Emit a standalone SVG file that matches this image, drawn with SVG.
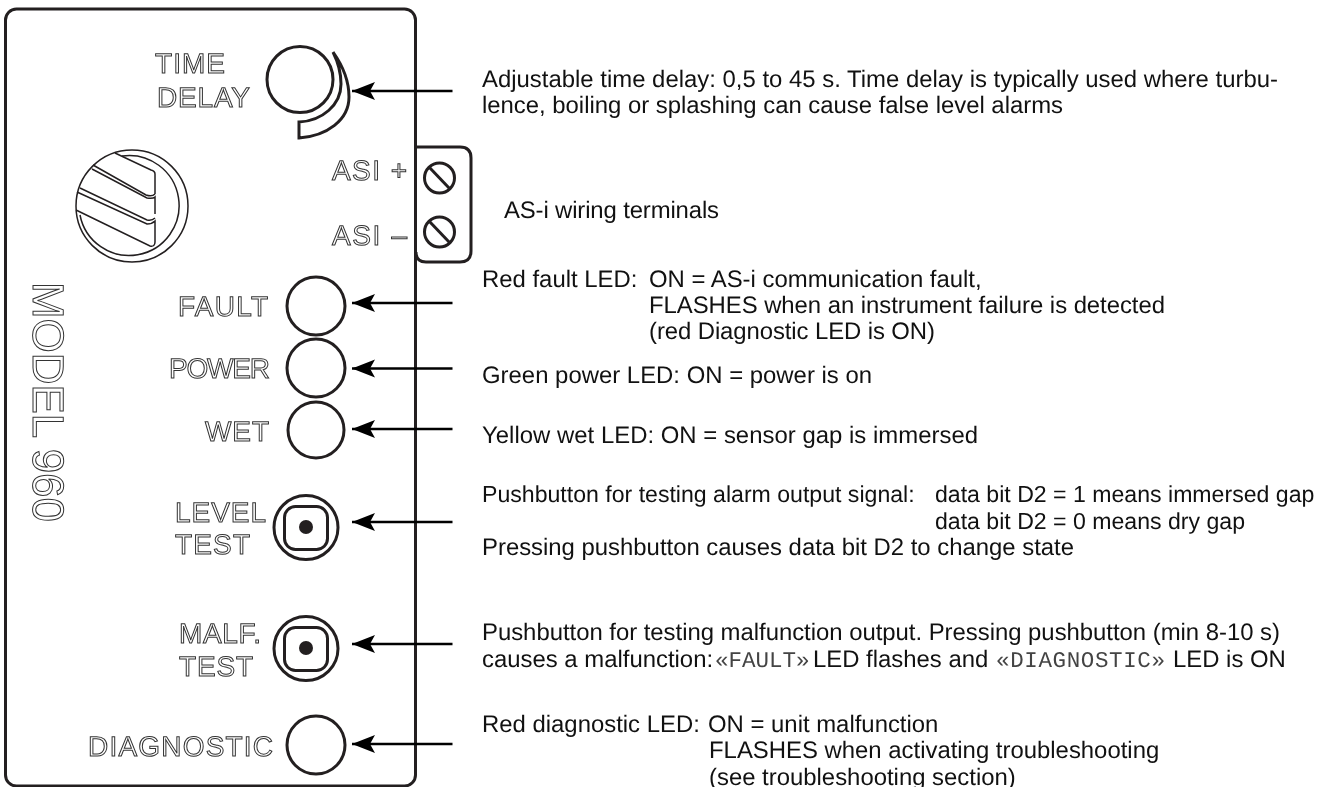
<svg xmlns="http://www.w3.org/2000/svg" width="1333" height="787" viewBox="0 0 1333 787">
<defs>
<style>
.b{fill:none;stroke:#231f20;stroke-width:3}
.t{font-family:"Liberation Sans",Arial,sans-serif;font-size:23.9px;fill:#111;text-rendering:geometricPrecision}
.n{font-size:23.1px}
.m{font-family:"Liberation Mono","Courier New",monospace;font-size:22.5px;fill:#444}
.o{font-family:"Liberation Sans",Arial,sans-serif;font-size:28px;fill:#fff;stroke:#333;stroke-width:1;text-rendering:geometricPrecision}
.a{stroke:#000;stroke-width:2.500;fill:none;marker-end:url(#h)}
</style>
<filter id="g" filterUnits="userSpaceOnUse" x="0" y="0" width="1333" height="787"><feOffset dx="0" dy="0"/></filter>
<marker id="h" markerUnits="userSpaceOnUse" markerWidth="26" markerHeight="22" refX="24" refY="11" orient="auto"><path d="M24 11L1 2L6 11L1 20Z" fill="#000"/></marker>
</defs>
<rect width="1333" height="787" fill="#fff"/>
<g id="panel"><rect class="b" x="5.500" y="9" width="410" height="777" rx="11"/></g>
<g id="terminals"><path class="b" d="M416 147H460Q471 147 471 158V251Q471 262 460 262H426Q416 262 416 252"/>
<circle class="b" cx="439.500" cy="178" r="15"/><path class="b" d="M429 167L450 189"/>
<circle class="b" cx="439.500" cy="232" r="15"/><path class="b" d="M429 221L450 243"/>
<g filter="url(#g)"><text class="o" x="332" y="180" textLength="75">ASI +</text><text class="o" x="332" y="245" textLength="75">ASI –</text></g></g>
<g id="logo" fill="none" stroke="#231f20" stroke-width="1.500">
<circle cx="132" cy="206" r="56"/>
<path d="M115 153L151 170Q155 171 155 174V194"/><path d="M93 165L146 195Q152 197 155 194"/><path d="M92 169L147 198Q153 199 155 197V214"/><path d="M80 188L147 220Q152 221 155 218"/><path d="M77 192L147 224Q152 224 155 221V242Q155 247 150 246L76 210"/><path d="M80 215A50 50 0 1 0 122 156"/></g>
<g id="model" filter="url(#g)"><text class="o" transform="translate(33 282) rotate(90)" style="font-size:44px" textLength="240">MODEL 960</text></g>
<g id="time-delay"><circle class="b" cx="300" cy="79.500" r="33"/><path class="b" d="M333 52C343 66 349 82 349 97C349 120 327 136 299 138V122C322 121 341 105 341 84C341 72 338 62 333 52Z"/><g filter="url(#g)"><text class="o" x="155" y="73" textLength="70">TIME</text><text class="o" x="157" y="107" textLength="93">DELAY</text></g></g>
<g id="fault"><circle class="b" cx="316" cy="306" r="29"/><text class="o" filter="url(#g)" x="178" y="316" textLength="90">FAULT</text></g>
<g id="power"><circle class="b" cx="316" cy="368" r="29"/><text class="o" filter="url(#g)" x="169" y="378" textLength="101">POWER</text></g>
<g id="wet"><circle class="b" cx="316" cy="430" r="28"/><text class="o" filter="url(#g)" x="205" y="441" textLength="64">WET</text></g>
<g id="level-test"><circle class="b" cx="306" cy="527.500" r="32"/><rect class="b" x="284.500" y="506.500" width="43" height="43" rx="11"/><circle cx="306" cy="527" r="7" fill="#231f20"/><g filter="url(#g)"><text class="o" x="175" y="522" textLength="91">LEVEL</text><text class="o" x="175" y="554" textLength="75">TEST</text></g></g>
<g id="malf-test"><circle class="b" cx="306" cy="648.500" r="32"/><rect class="b" x="284.500" y="627.500" width="43" height="43" rx="11"/><circle cx="306" cy="648" r="7" fill="#231f20"/><g filter="url(#g)"><text class="o" x="179" y="643" textLength="82">MALF.</text><text class="o" x="179" y="676" textLength="74">TEST</text></g></g>
<g id="diagnostic"><circle class="b" cx="316" cy="745" r="29"/><text class="o" filter="url(#g)" x="88" y="756" textLength="185">DIAGNOSTIC</text></g>
<g id="connectors">
<path class="a" d="M452.500 91H352"/><path class="a" d="M452.500 303H352"/><path class="a" d="M452.500 368.500H352"/><path class="a" d="M452.500 429H352"/><path class="a" d="M452.500 522H352"/><path class="a" d="M452.500 644H352"/><path class="a" d="M452.500 744H352"/></g>
<g id="notes" filter="url(#g)">
<text class="t" x="482" y="87" textLength="796">Adjustable time delay: 0,5 to 45 s. Time delay is typically used where turbu-</text>
<text class="t" x="482" y="113" textLength="581">lence, boiling or splashing can cause false level alarms</text>
<text class="t" x="504" y="218" textLength="215">AS-i wiring terminals</text>
<text class="t" x="482" y="287">Red fault LED:<tspan x="649">ON = AS-i communication fault,</tspan></text>
<text class="t" x="649" y="313" textLength="516">FLASHES when an instrument failure is detected</text>
<text class="t" x="649" y="339" textLength="286">(red Diagnostic LED is ON)</text>
<text class="t" x="482" y="383" textLength="390">Green power LED: ON = power is on</text>
<text class="t" x="482" y="443" textLength="496">Yellow wet LED: ON = sensor gap is immersed</text>
<text class="t n" x="482" y="502">Pushbutton for testing alarm output signal:<tspan x="935">data bit D2 = 1 means immersed gap</tspan></text>
<text class="t n" x="935" y="529" textLength="310">data bit D2 = 0 means dry gap</text>
<text class="t" x="482" y="555" textLength="592">Pressing pushbutton causes data bit D2 to change state</text>
<text class="t" x="482" y="640" textLength="798">Pushbutton for testing malfunction output. Pressing pushbutton (min 8-10 s)</text>
<text class="t" x="482" y="667">causes a malfunction:<tspan class="m" x="715">«FAULT»</tspan><tspan x="813">LED flashes and</tspan><tspan class="m" x="996" textLength="169">«DIAGNOSTIC»</tspan><tspan x="1173">LED is ON</tspan></text>
<text class="t" x="482" y="732">Red diagnostic LED:<tspan x="708">ON = unit malfunction</tspan></text>
<text class="t" x="709" y="758">FLASHES when activating troubleshooting</text>
<text class="t" x="709" y="785">(see troubleshooting section)</text>
</g>
</svg>
